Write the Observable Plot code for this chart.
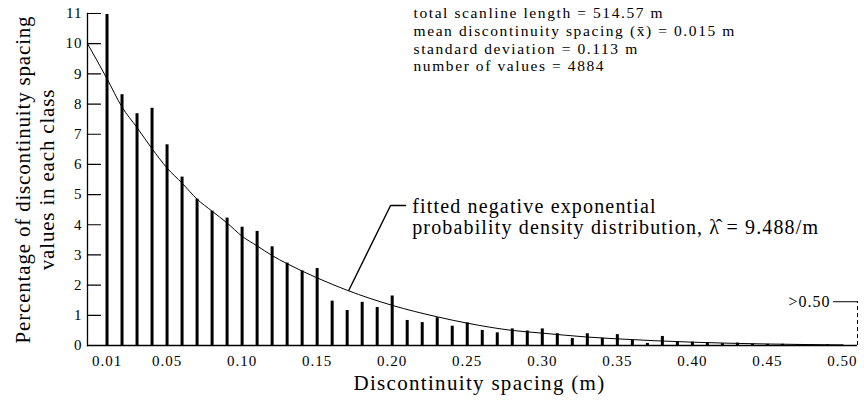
<!DOCTYPE html>
<html>
<head>
<meta charset="utf-8">
<script src="https://cdn.jsdelivr.net/npm/d3@7"></script>
<script src="https://cdn.jsdelivr.net/npm/@observablehq/plot@0.6"></script>
<style>
  html, body { margin: 0; padding: 0; background: #fff; }
  #chart svg { display: block; }
  #chart svg text { letter-spacing: 1px; }
</style>
</head>
<body>
<div id="chart"></div>
<script>
// ---- data ----
const classes = [0.01,0.02,0.03,0.04,0.05,0.06,0.07,0.08,0.09,0.10,
                 0.11,0.12,0.13,0.14,0.15,0.16,0.17,0.18,0.19,0.20,
                 0.21,0.22,0.23,0.24,0.25,0.26,0.27,0.28,0.29,0.30,
                 0.31,0.32,0.33,0.34,0.35,0.36,0.37,0.38,0.39,0.40,
                 0.41,0.42,0.43,0.44,0.45,0.46,0.47,0.48,0.49,0.50];
const percents = [10.97,8.31,7.68,7.86,6.65,5.58,4.85,4.45,4.22,3.92,
                  3.78,3.27,2.73,2.47,2.55,1.47,1.16,1.43,1.26,1.64,
                  0.83,0.76,0.92,0.64,0.75,0.50,0.42,0.55,0.48,0.55,
                  0.39,0.23,0.39,0.24,0.36,0.17,0.07,0.30,0.13,0.11,
                  0.09,0.06,0.08,0.04,0.04,0.04,0.03,0.02,0.02,0.01];
const overflowClass = [0.51];
const overflowPercent = [1.45];
const overflowText = [">0.50"];

const curveX = [-0.003,0.01,0.02,0.03,0.04,0.05,0.06,0.07,0.08,0.09,0.10,0.11,0.12,0.13,
                0.15,0.17,0.20,0.23,0.25,0.28,0.30,0.33,0.35,0.40,0.45,0.50];
const curveY = [10.0,8.84,7.90,7.22,6.52,5.88,5.38,4.85,4.45,4.06,3.62,3.30,2.98,2.71,
                2.24,1.83,1.33,0.95,0.74,0.50,0.41,0.28,0.22,0.11,0.05,0.02];

const yTicks = [0,1,2,3,4,5,6,7,8,9,10,11];
const xTicks = [0.01,0.05,0.10,0.15,0.20,0.25,0.30,0.35,0.40,0.45,0.50];
const xDomain = [-0.003, 0.51];
const yDomain = [0, 11];

const xTitle = "Discontinuity spacing (m)";
const yTitle = ["Percentage of discontinuity spacing", "values in each class"];
const statLines = ["total scanline length = 514.57 m",
                   "mean discontinuity spacing (x\u0304) = 0.015 m",
                   "standard deviation = 0.113 m",
                   "number of values = 4884"];
const fitLines = ["fitted negative exponential",
                  "probability density distribution, \u03bb\u0302 = 9.488/m"];

// annotation anchors (data space)
const statX = [0.2142], statY = [9.08];
const fitX = [0.2133], fitY = [3.71];
const leaderX = [0.1711, 0.1989, 0.2089], leaderY = [1.83, 4.64, 4.64];
const overflowGuideX = [0.494, 0.51];
const overflowLabelX = [0.492];

// ---- tables built from the arrays ----
const bars = classes.map((c, i) => ({cls: c, pct: percents[i]}));
const curve = curveX.map((x, i) => ({x, y: curveY[i]}));
const overflow = overflowClass.map((c, i) => ({cls: c, pct: overflowPercent[i]}));
const overflowGuide = overflowGuideX.map(x => ({x, y: overflowPercent[0]}));
const leader = leaderX.map((x, i) => ({x, y: leaderY[i]}));

const tickShape = {draw(ctx, l) { ctx.moveTo(0, 0); ctx.lineTo(0, -l); }};
const serif = "'Liberation Serif', 'Times New Roman', 'DejaVu Serif', serif";

const chart = Plot.plot({
  width: 864,
  height: 401,
  marginLeft: 87,
  marginRight: 7,
  marginTop: 13,
  marginBottom: 56,
  style: {fontFamily: serif, color: "#000", background: "#fff", overflow: "visible"},
  x: {domain: xDomain},
  y: {domain: yDomain},
  marks: [
    Plot.axisY(yTicks, {tickSize: 0, tickPadding: 5, fontSize: 15, label: null}),
    Plot.vector(yTicks, {y: d => d, frameAnchor: "left", length: 13, rotate: 90,
                         anchor: "start", shape: tickShape, stroke: "#000", strokeWidth: 1.2}),
    Plot.axisX(xTicks, {tickSize: 0, tickPadding: 10, fontSize: 15,
                        tickFormat: d3.format(".2f"), label: null}),
    Plot.frame({anchor: "left", stroke: "#000", strokeWidth: 1.3}),
    Plot.ruleY([0], {stroke: "#000", strokeWidth: 1.3}),
    Plot.ruleX(bars, {x: "cls", y1: 0, y2: "pct", stroke: "#000", strokeWidth: 3}),
    Plot.line(curve, {x: "x", y: "y", curve: "monotone-x", stroke: "#000", strokeWidth: 1}),
    Plot.ruleX(overflow, {x: "cls", y1: 0, y2: "pct", stroke: "#000", strokeWidth: 1,
                          strokeDasharray: "4,3"}),
    Plot.line(overflowGuide, {x: "x", y: "y", stroke: "#000", strokeWidth: 1}),
    Plot.text(overflowText, {x: () => overflowLabelX[0], y: () => overflowPercent[0],
                             text: d => d, textAnchor: "end", lineAnchor: "middle", fontSize: 16}),
    Plot.line(leader, {x: "x", y: "y", stroke: "#000", strokeWidth: 1.4}),
    Plot.text([fitLines.join("\n")], {x: () => fitX[0], y: () => fitY[0], text: d => d,
                             textAnchor: "start", lineAnchor: "bottom", fontSize: 20, lineHeight: 1.05}),
    Plot.text([statLines.join("\n")], {x: () => statX[0], y: () => statY[0], text: d => d,
                             textAnchor: "start", lineAnchor: "bottom", fontSize: 15.5, lineHeight: 1.14}),
    Plot.text([xTitle], {frameAnchor: "bottom", dx: 7, dy: 44, text: d => d,
                         textAnchor: "middle", lineAnchor: "bottom", fontSize: 21}),
    Plot.text([yTitle.join("\n")], {frameAnchor: "left", rotate: -90, dx: -34, text: d => d,
                         textAnchor: "middle", lineAnchor: "bottom", fontSize: 21, lineHeight: 1.14})
  ]
});
document.getElementById("chart").appendChild(chart);

// widen the letter spacing of the texts so that their widths follow the reference's loose typesetting
const textEls = chart.querySelectorAll("g[aria-label='text'] > text");
// order: overflow label, fit label, stats, x title, y title ; [index, line, target width]
const targets = [[1, 1, 408], [2, 1, 324], [3, -1, 252], [4, 0, 328]];
for (const [k, line, target] of targets) {
  const el = textEls[k];
  if (!el) continue;
  el.style.letterSpacing = "0px";
  const spans = el.querySelectorAll("tspan");
  const ref = line >= 0 && spans.length ? spans[line] : el;
  const w = ref.getComputedTextLength();
  const n = [...ref.textContent].length;
  const ls = Math.max(0, (target - w) / n);
  el.style.letterSpacing = ls.toFixed(2) + "px";
}
</script>
</body>
</html>
